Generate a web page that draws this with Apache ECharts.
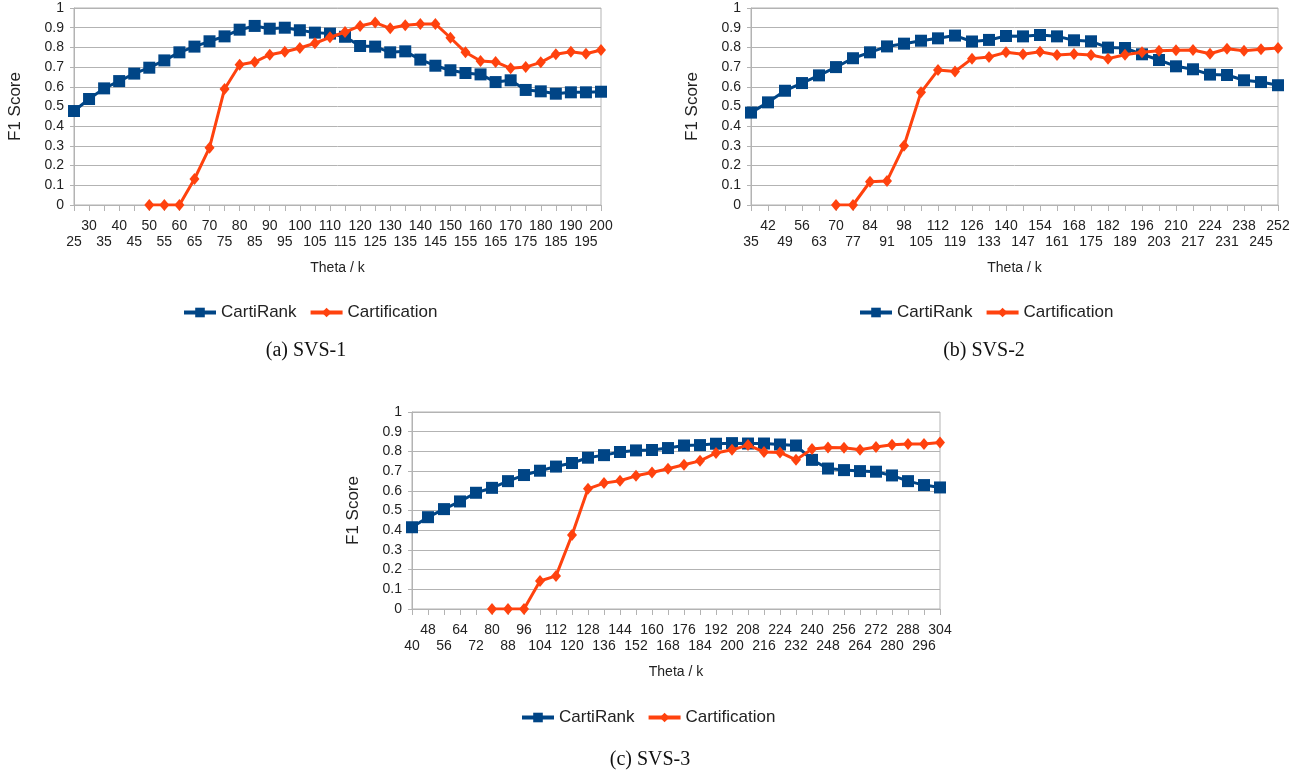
<!DOCTYPE html>
<html>
<head>
<meta charset="utf-8">
<script src="https://cdn.jsdelivr.net/npm/echarts@6/dist/echarts.min.js"></script>
<style>
  html, body { margin: 0; padding: 0; background: #fff; }
  #main { width: 1300px; height: 776px; }
</style>
</head>
<body>
<div id="main"></div>
<script>
// SVS-1
var theta1 = [25, 30, 35, 40, 45, 50, 55, 60, 65, 70, 75, 80, 85, 90, 95, 100, 105, 110, 115, 120,
  125, 130, 135, 140, 145, 150, 155, 160, 165, 170, 175, 180, 185, 190, 195, 200];
var cartiRank1 = [0.477, 0.538, 0.592, 0.629, 0.667, 0.697, 0.734, 0.775, 0.804, 0.831,
  0.856, 0.89, 0.909, 0.895, 0.9, 0.887, 0.875, 0.87, 0.854, 0.807,
  0.804, 0.775, 0.78, 0.738, 0.707, 0.684, 0.67, 0.663, 0.624, 0.633,
  0.584, 0.577, 0.565, 0.572, 0.572, 0.575];
var cartification1 = [null, null, null, null, null,
  0, 0, 0, 0.132, 0.291, 0.589, 0.712, 0.726, 0.763, 0.778,
  0.797, 0.821, 0.851, 0.878, 0.909, 0.926, 0.897, 0.912, 0.919, 0.919,
  0.849, 0.775, 0.731, 0.726, 0.694, 0.7, 0.724, 0.765, 0.778, 0.768, 0.787];

// SVS-2
var theta2 = [35, 42, 49, 56, 63, 70, 77, 84, 91, 98, 105, 112, 119, 126, 133, 140, 147, 154, 161, 168,
  175, 182, 189, 196, 203, 210, 217, 224, 231, 238, 245, 252];
var cartiRank2 = [0.469, 0.521, 0.58, 0.619, 0.658, 0.7, 0.745, 0.775, 0.805, 0.819,
  0.834, 0.846, 0.86, 0.83, 0.838, 0.858, 0.856, 0.863, 0.856, 0.836,
  0.831, 0.799, 0.797, 0.765, 0.736, 0.704, 0.689, 0.662, 0.66, 0.633,
  0.624, 0.608];
var cartification2 = [null, null, null, null, null,
  0, 0, 0.118, 0.122, 0.301, 0.572, 0.685, 0.678, 0.743, 0.751,
  0.775, 0.765, 0.778, 0.761, 0.766, 0.761, 0.743, 0.763, 0.775, 0.783,
  0.785, 0.787, 0.768, 0.793, 0.783, 0.79, 0.797];

// SVS-3
var theta3 = [40, 48, 56, 64, 72, 80, 88, 96, 104, 112, 120, 128, 136, 144, 152, 160, 168, 176, 184, 192,
  200, 208, 216, 224, 232, 240, 248, 256, 264, 272, 280, 288, 296, 304];
var cartiRank3 = [0.415, 0.466, 0.507, 0.546, 0.59, 0.615, 0.649, 0.68, 0.702, 0.723,
  0.741, 0.768, 0.781, 0.797, 0.805, 0.807, 0.817, 0.83, 0.832, 0.839,
  0.842, 0.84, 0.84, 0.835, 0.83, 0.757, 0.713, 0.705, 0.7, 0.697,
  0.678, 0.649, 0.629, 0.617];
var cartification3 = [null, null, null, null, null,
  0, 0, 0, 0.142, 0.168, 0.376, 0.61, 0.639, 0.651, 0.676,
  0.693, 0.712, 0.732, 0.752, 0.792, 0.808, 0.832, 0.797, 0.795, 0.757,
  0.812, 0.82, 0.818, 0.808, 0.822, 0.834, 0.838, 0.838, 0.845];

var seriesNames = ['CartiRank', 'Cartification'];
var captions = ['(a) SVS-1', '(b) SVS-2', '(c) SVS-3'];

var blue = '#004586';
var orange = '#ff420e';
var gridColor = '#b3b3b3';
var textColor = '#222';
var font = 'Liberation Sans, Arial, sans-serif';

var panels = [
  { theta: theta1, a: cartiRank1, b: cartification1, grid: { left: 74, right: 699, top: 8, bottom: 571 },
    legend: { left: 177, top: 299 }, caption: { x: 306, y: 351 } },
  { theta: theta2, a: cartiRank2, b: cartification2, grid: { left: 751, right: 22, top: 8, bottom: 571 },
    legend: { left: 853, top: 299 }, caption: { x: 984, y: 351 } },
  { theta: theta3, a: cartiRank3, b: cartification3, grid: { left: 412, right: 360, top: 412, bottom: 167 },
    legend: { left: 515, top: 704 }, caption: { x: 650, y: 760 } }
];

var grids = [], xAxes = [], yAxes = [], series = [], legends = [], texts = [];

panels.forEach(function (p, i) {
  grids.push({
    left: p.grid.left, right: p.grid.right, top: p.grid.top, bottom: p.grid.bottom,
    containLabel: false, outerBoundsMode: 'none',
    show: true, borderColor: gridColor, borderWidth: 1
  });
  xAxes.push({
    type: 'category', gridIndex: i, data: p.theta, boundaryGap: false,
    name: 'Theta / k', nameLocation: 'middle', nameGap: 56,
    nameTextStyle: { fontFamily: font, fontSize: 14, color: textColor },
    axisLine: { lineStyle: { color: gridColor } },
    axisTick: { show: true, length: 6, interval: 0, lineStyle: { color: gridColor } },
    axisLabel: {
      interval: 0, margin: 13, fontFamily: font, fontSize: 14, color: textColor, lineHeight: 16,
      formatter: function (v, idx) { return idx % 2 === 0 ? '\n' + v : v; }
    },
    splitLine: { show: false }
  });
  yAxes.push({
    type: 'value', gridIndex: i, min: 0, max: 1, interval: 0.1,
    name: 'F1 Score', nameLocation: 'middle', nameGap: 50,
    nameTextStyle: { fontFamily: font, fontSize: 17, color: textColor },
    axisLine: { show: true, lineStyle: { color: gridColor } },
    axisTick: { show: true, length: 4, lineStyle: { color: gridColor } },
    axisLabel: { margin: 10, fontFamily: font, fontSize: 14, color: textColor },
    splitLine: { show: true, lineStyle: { color: gridColor, width: 1 } }
  });
  series.push({
    name: seriesNames[0], type: 'line', xAxisIndex: i, yAxisIndex: i, data: p.a,
    symbol: 'rect', symbolSize: 12, color: blue,
    lineStyle: { width: 3, color: blue }, itemStyle: { color: blue },
    animation: false, z: 2
  });
  series.push({
    name: seriesNames[1], type: 'line', xAxisIndex: i, yAxisIndex: i, data: p.b,
    symbol: 'diamond', symbolSize: [10, 12], color: orange, connectNulls: false,
    lineStyle: { width: 3, color: orange }, itemStyle: { color: orange },
    animation: false, z: 3
  });
  legends.push({
    data: seriesNames, left: p.legend.left, top: p.legend.top,
    itemWidth: 32, itemHeight: 12, itemGap: 12,
    lineStyle: { width: 4 },
    textStyle: { fontFamily: font, fontSize: 17, color: textColor },
    selectedMode: false
  });
  texts.push({
    type: 'text', x: p.caption.x, y: p.caption.y,
    style: {
      text: captions[i], x: 0, y: 0, align: 'center', verticalAlign: 'middle',
      font: '20px "Liberation Serif", "Times New Roman", serif', fill: '#111'
    }
  });
});

var myChart = echarts.init(document.getElementById('main'));
myChart.setOption({
  backgroundColor: '#fff',
  animation: false,
  grid: grids,
  xAxis: xAxes,
  yAxis: yAxes,
  legend: legends,
  series: series,
  graphic: { elements: texts }
});
</script>
</body>
</html>
